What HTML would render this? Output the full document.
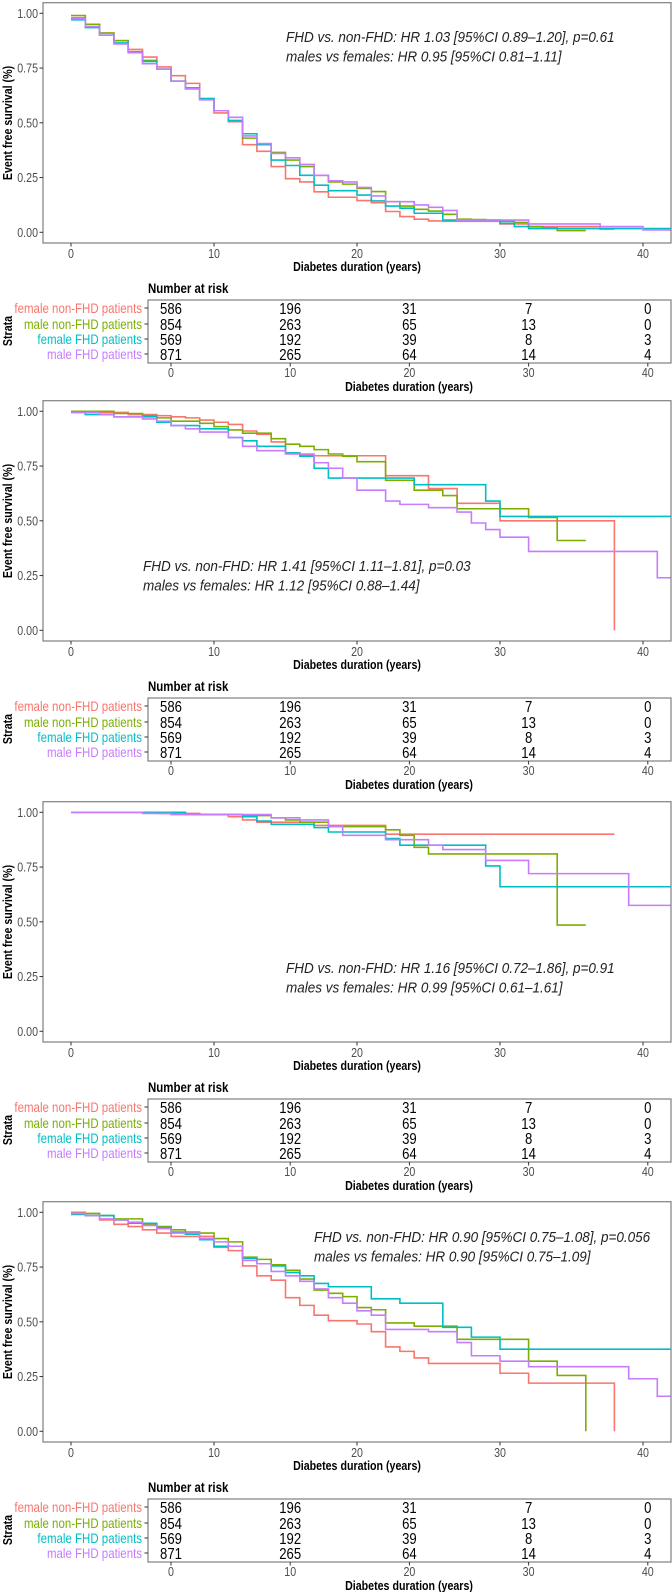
<!DOCTYPE html>
<html><head><meta charset="utf-8"><style>
html,body{margin:0;padding:0;background:#fff;}
svg{display:block;font-family:"Liberation Sans",Arial,sans-serif;}
</style></head><body>
<svg id="chart" width="672" height="1592" viewBox="0 0 672 1592" xmlns="http://www.w3.org/2000/svg"></svg>
<script>
// ---------- data ----------
const seriesNames = ["female non-FHD patients","male non-FHD patients","female FHD patients","male FHD patients"];
const seriesColors = ["#F8766D","#7CAE00","#00BFC4","#C77CFF"];
const xTicks = [0,10,20,30,40];
const yTicks = [0,0.25,0.5,0.75,1];
const yTickLabels = ["0.00","0.25","0.50","0.75","1.00"];
const riskTimes = [0,10,20,30,40];
const riskRed = [586,196,31,7,0];
const riskGreen = [854,263,65,13,0];
const riskCyan = [569,192,39,8,3];
const riskPurple = [871,265,64,14,4];

// panel 1 (yearly steps)
const p1RedS = [0.98,0.95,0.91,0.875,0.835,0.80,0.755,0.715,0.68,0.61,0.545,0.505,0.40,0.37,0.30,0.245,0.23,0.185,0.16,0.16,0.145,0.135,0.095,0.072,0.06,0.052,0.05,0.05,0.05,0.05,0.038,0.038,0.026,0.026,0.026,0.026,0.026,0.015];
const p1GreenS = [0.99,0.95,0.91,0.875,0.825,0.785,0.745,0.69,0.66,0.61,0.555,0.51,0.43,0.40,0.365,0.33,0.30,0.26,0.23,0.22,0.20,0.186,0.14,0.12,0.105,0.097,0.082,0.06,0.058,0.055,0.05,0.045,0.026,0.02,0.008,0.008];
const p1CyanS = [0.97,0.935,0.90,0.865,0.82,0.78,0.745,0.69,0.655,0.61,0.555,0.51,0.45,0.40,0.33,0.305,0.26,0.215,0.19,0.19,0.17,0.143,0.12,0.11,0.087,0.087,0.056,0.056,0.056,0.056,0.041,0.026,0.017,0.017,0.017,0.017,0.017,0.017,0.017,0.017,0.017,0.017];
const p1PurpleS = [0.975,0.94,0.90,0.86,0.82,0.77,0.745,0.69,0.655,0.605,0.555,0.525,0.44,0.405,0.36,0.34,0.31,0.26,0.235,0.23,0.205,0.166,0.14,0.14,0.125,0.114,0.1,0.056,0.056,0.056,0.056,0.056,0.038,0.038,0.038,0.038,0.038,0.026,0.026,0.026,0.011,0.011];
const p1Ends = [38,36,42,42];

// panel 2
const p2RedT = [0,2,4,6,7,8,9,10,11,12,13,14,15,16,17,22,25,27,30,38];
const p2RedS = [1,0.995,0.985,0.98,0.975,0.97,0.96,0.95,0.94,0.91,0.895,0.86,0.81,0.80,0.797,0.706,0.647,0.58,0.50,0];
const p2GreenT = [0,3,5,6,7,9,10,11,12,14,15,16,17,18,19,20,22,24,26,27,32,34];
const p2GreenS = [1,0.99,0.98,0.97,0.955,0.945,0.93,0.915,0.90,0.875,0.85,0.84,0.825,0.805,0.795,0.77,0.685,0.64,0.615,0.555,0.515,0.41];
const p2CyanT = [0,1,3,6,7,9,11,12,13,15,16,17,18,24,29,30];
const p2CyanS = [0.995,0.985,0.975,0.95,0.935,0.92,0.88,0.865,0.84,0.81,0.795,0.74,0.695,0.665,0.59,0.52];
const p2PurpleT = [0,2,3,5,6,7,8,9,11,12,13,15,17,18,19,20,22,23,25,27,28,29,30,32,41];
const p2PurpleS = [0.995,0.985,0.975,0.965,0.955,0.935,0.92,0.905,0.88,0.84,0.82,0.805,0.765,0.74,0.695,0.64,0.59,0.575,0.56,0.54,0.49,0.46,0.425,0.36,0.24];
const p2Ends = [38,36,42,42];

// panel 3
const p3RedT = [0,6,9,11,12,13,17,22];
const p3RedS = [1,0.995,0.99,0.98,0.965,0.955,0.94,0.90];
const p3GreenT = [0,7,12,14,15,16,18,22,23,24,25,34];
const p3GreenS = [1,0.99,0.985,0.975,0.965,0.955,0.935,0.92,0.895,0.84,0.81,0.485];
const p3CyanT = [0,8,12,13,14,17,18,22,23,29,30];
const p3CyanS = [1,0.99,0.98,0.96,0.945,0.93,0.91,0.88,0.85,0.755,0.66];
const p3PurpleT = [0,5,7,14,16,18,19,22,25,26,29,32,39];
const p3PurpleS = [1,0.995,0.99,0.975,0.965,0.935,0.895,0.875,0.85,0.83,0.78,0.72,0.575];
const p3Ends = [38,36,42,42];

// panel 4
const p4RedT = [0,1,2,3,4,5,6,7,10,11,12,13,14,15,16,17,18,20,21,22,23,24,25,30,32,38];
const p4RedS = [1,0.985,0.965,0.945,0.935,0.92,0.905,0.89,0.84,0.825,0.755,0.71,0.69,0.61,0.575,0.53,0.505,0.49,0.455,0.385,0.365,0.335,0.31,0.265,0.22,0];
const p4GreenT = [0,2,3,5,6,7,8,9,10,11,12,13,14,15,16,17,18,19,20,21,22,24,27,32,34,36];
const p4GreenS = [0.995,0.985,0.97,0.945,0.935,0.92,0.91,0.905,0.88,0.865,0.795,0.785,0.76,0.735,0.695,0.645,0.63,0.615,0.565,0.555,0.495,0.48,0.42,0.32,0.255,0];
const p4CyanT = [0,1,3,4,6,7,8,9,10,12,13,14,15,16,17,18,21,23,26,28,30];
const p4CyanS = [0.99,0.985,0.965,0.95,0.93,0.91,0.90,0.875,0.845,0.79,0.765,0.755,0.725,0.71,0.675,0.66,0.605,0.585,0.475,0.43,0.375];
const p4PurpleT = [0,1,2,3,4,5,6,7,9,10,11,12,13,14,15,16,17,18,19,20,21,22,25,27,28,30,32,39,41];
const p4PurpleS = [0.995,0.985,0.97,0.965,0.955,0.94,0.925,0.905,0.88,0.865,0.845,0.78,0.765,0.73,0.71,0.685,0.65,0.61,0.585,0.55,0.53,0.465,0.455,0.405,0.345,0.32,0.295,0.24,0.16];
const p4Ends = [38,36,42,42];

const annot1 = ["FHD vs. non-FHD: HR 1.03 [95%CI 0.89\u20131.20], p=0.61","males vs females: HR 0.95 [95%CI 0.81\u20131.11]"];
const annot2 = ["FHD vs. non-FHD: HR 1.41 [95%CI 1.11\u20131.81], p=0.03","males vs females: HR 1.12 [95%CI 0.88\u20131.44]"];
const annot3 = ["FHD vs. non-FHD: HR 1.16 [95%CI 0.72\u20131.86], p=0.91","males vs females: HR 0.99 [95%CI 0.61\u20131.61]"];
const annot4 = ["FHD vs. non-FHD: HR 0.90 [95%CI 0.75\u20131.08], p=0.056","males vs females: HR 0.90 [95%CI 0.75\u20131.09]"];

// ---------- rendering ----------
const NS = "http://www.w3.org/2000/svg";
const svg = document.getElementById("chart");
const SX = 0.82;
function mk(tag, attrs, parent){ const e=document.createElementNS(NS,tag); for(const k in attrs) e.setAttribute(k,attrs[k]); (parent||svg).appendChild(e); return e; }
function txt(str, x, y, attrs, parent, rot, sx){
  const a = Object.assign({}, attrs);
  a.x = 0; a.y = 0;
  a.transform = "translate("+x+","+y+")"+(rot?" rotate(-90)":"")+" scale("+(sx||SX)+",1)";
  const e=mk("text",a,parent); e.textContent=str; return e;
}
const yearsIdx = n => Array.from({length:n},(_,i)=>i);

const panels = [
 {top:0, annot:annot1, ax:286, ay:42, series:[[yearsIdx(p1RedS.length),p1RedS],[yearsIdx(p1GreenS.length),p1GreenS],[yearsIdx(p1CyanS.length),p1CyanS],[yearsIdx(p1PurpleS.length),p1PurpleS]], ends:p1Ends},
 {top:398, annot:annot2, ax:143, ay:173, series:[[p2RedT,p2RedS],[p2GreenT,p2GreenS],[p2CyanT,p2CyanS],[p2PurpleT,p2PurpleS]], ends:p2Ends},
 {top:799, annot:annot3, ax:286, ay:174, series:[[p3RedT,p3RedS],[p3GreenT,p3GreenS],[p3CyanT,p3CyanS],[p3PurpleT,p3PurpleS]], ends:p3Ends},
 {top:1199, annot:annot4, ax:314, ay:43, series:[[p4RedT,p4RedS],[p4GreenT,p4GreenS],[p4CyanT,p4CyanS],[p4PurpleT,p4PurpleS]], ends:p4Ends}
];
const risks = [riskRed,riskGreen,riskCyan,riskPurple];
const xs = t => 71 + 14.3*t;
const xr = t => 171 + 11.92*t;
const gray = "#4d4d4d";

panels.forEach((p,pi)=>{
  const T = p.top;
  const ys = v => T + 232.3 - 219*v;
  const g = mk("g",{});
  
  
  const cid = "clip"+pi;
  const cp = mk("clipPath",{id:cid},g);
  mk("rect",{x:43,y:T+2.7,width:628,height:240.3},cp);
  p.series.forEach((s,si)=>{
    const [tt,vv]=s;
    let d = "M"+xs(tt[0]).toFixed(2)+","+ys(vv[0]).toFixed(2);
    for(let i=1;i<tt.length;i++){ d+="H"+xs(tt[i]).toFixed(2)+"V"+ys(vv[i]).toFixed(2); }
    d+="H"+xs(p.ends[si]).toFixed(2);
    const path = mk("path",{d:d,fill:"none",stroke:seriesColors[si],"stroke-width":1.6,"clip-path":"url(#"+cid+")"},g);
    
    
  });
  const fr = mk("rect",{x:43,y:T+2.7,width:628,height:240.3,fill:"none",stroke:"#7f7f7f","stroke-width":1.2},g);
  
  
  yTicks.forEach((v,i)=>{
    mk("line",{x1:39.5,x2:43,y1:ys(v),y2:ys(v),stroke:"#333","stroke-width":1},g);
    const l = txt(yTickLabels[i],38,ys(v)+4.5,{"text-anchor":"end","font-size":13,fill:gray},g);
    
    
  });
  xTicks.forEach(t=>{
    mk("line",{x1:xs(t),x2:xs(t),y1:T+243,y2:T+246.5,stroke:"#333","stroke-width":1},g);
    const l = txt(String(t),xs(t),T+258,{"text-anchor":"middle","font-size":13,fill:gray},g);
    
    
  });
  const xt = txt("Diabetes duration (years)",357,T+271,{"text-anchor":"middle","font-size":13,"font-weight":"bold",fill:"#000"},g);
  
  
  const yt = txt("Event free survival (%)",12,T+123,{"text-anchor":"middle","font-size":13,"font-weight":"bold",fill:"#000"},g,true);
  
  
  p.annot.forEach((a,i)=>{
    const an = txt(a,p.ax,T+p.ay+i*19.5,{"font-size":15,"font-style":"italic",fill:"#222"},g,false,0.9);
    
    
  });
  const nr = txt("Number at risk",148,T+293,{"font-size":14,"font-weight":"bold",fill:"#000"},g);
  
  
  const tb = mk("rect",{x:148,y:T+300,width:523,height:63,fill:"none",stroke:"#7f7f7f","stroke-width":1.2},g);
  
  
  const rowY = [308,324,339,354];
  risks.forEach((r,si)=>{
    const yy = T+rowY[si];
    const sl = txt(seriesNames[si],142,yy+5,{"text-anchor":"end","font-size":14,fill:seriesColors[si]},g);
    
    
    mk("line",{x1:144.5,x2:148,y1:yy,y2:yy,stroke:"#333","stroke-width":1},g);
    r.forEach((n,ti)=>{
      const c = txt(String(n),xr(riskTimes[ti]),yy+6,{"text-anchor":"middle","font-size":16,fill:"#000"},g);
      
      
    });
  });
  const st = txt("Strata",12,T+331,{"text-anchor":"middle","font-size":13,"font-weight":"bold",fill:"#000"},g,true);
  
  
  xTicks.forEach(t=>{
    mk("line",{x1:xr(t),x2:xr(t),y1:T+363,y2:T+366.5,stroke:"#333","stroke-width":1},g);
    const l = txt(String(t),xr(t),T+377,{"text-anchor":"middle","font-size":13,fill:gray},g);
    
    
  });
  const rt = txt("Diabetes duration (years)",409,T+391,{"text-anchor":"middle","font-size":13,"font-weight":"bold",fill:"#000"},g);
  
  
});
</script>
</body></html>
